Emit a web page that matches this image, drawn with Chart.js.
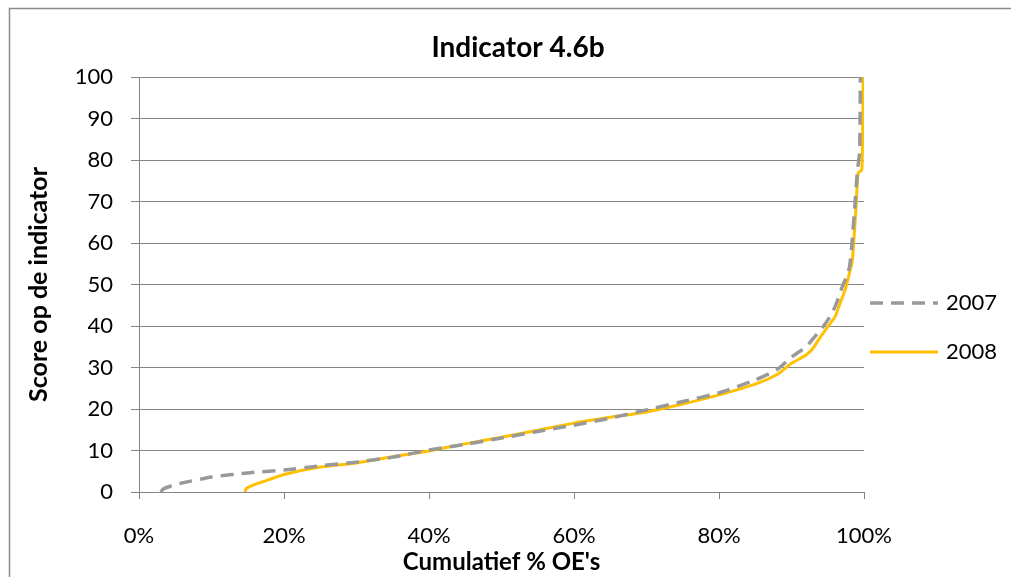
<!DOCTYPE html>
<html>
<head>
<meta charset="utf-8">
<script src="https://cdn.jsdelivr.net/npm/chart.js@4/dist/chart.umd.min.js"></script>
<style>
  html, body { margin: 0; padding: 0; background: #fff; }
  #wrap { width: 1011px; height: 577px; position: relative; }
</style>
</head>
<body>
<div id="wrap"><canvas id="curveChart"></canvas></div>
<script>
// cumulative share of OE's (%) against score, per year
var pct2007 = [3.0, 3.4, 4.5, 6, 10, 15, 20, 25, 30, 35, 40, 45, 50, 55, 60, 65, 70, 75, 80, 85, 88, 90, 92, 93, 94, 95, 96, 97, 97.6, 98, 98.3, 98.7, 99.1, 99.4, 99.5];
var score2007 = [0, 0.8, 1.5, 2.2, 3.6, 4.6, 5.3, 6.3, 7.2, 8.4, 10.1, 11.5, 13, 14.6, 16.1, 17.8, 19.8, 21.8, 23.9, 27, 29.5, 32.5, 35, 37, 39, 41.4, 44.6, 49.4, 52, 54.2, 59, 68, 77.6, 82, 100];
var pct2008 = [14.6, 14.8, 15.5, 17, 20, 25, 30, 35, 40, 45, 50, 55, 60, 65, 70, 75, 80, 85, 88, 90, 92, 93, 94, 95, 96, 96.7, 97.4, 98, 98.4, 98.9, 99.2, 99.7, 99.9];
var score2008 = [0, 0.8, 1.5, 2.4, 4.2, 6.0, 7.0, 8.5, 9.9, 11.6, 13.2, 14.9, 16.6, 18, 19.3, 21.2, 23.4, 26, 28.3, 31, 33, 34.7, 37.4, 39.8, 42.2, 45.5, 48.7, 52.8, 55.9, 68.7, 76.9, 77.6, 100];
var seriesNames = ["2007", "2008"];
var xTicks = [0, 20, 40, 60, 80, 100];
var chartTitle = "Indicator 4.6b";

var FONT = "Lato, 'Open Sans', sans-serif";
var GRID = "#868686";

function toPoints(xs, ys) {
    return xs.map(function (x, i) { return { x: x, y: ys[i] }; });
}

/* ==============================
   FRAME, TITLE, LEGEND
============================== */
var framePlugin = {
    id: "frame",
    afterDraw: function (chart) {
        var ctx = chart.ctx;
        ctx.save();
        ctx.strokeStyle = "#8c8c8c";
        ctx.lineWidth = 1.5;
        ctx.beginPath();
        ctx.moveTo(9.5, 577);
        ctx.lineTo(9.5, 8.5);
        ctx.lineTo(1011, 8.5);
        ctx.stroke();
        // title is centred on the whole frame, not on the plot
        ctx.fillStyle = "#000";
        ctx.font = "bold 28px " + FONT;
        ctx.textAlign = "center";
        ctx.textBaseline = "middle";
        ctx.fillText(chartTitle, 518, 48);
        ctx.restore();
    }
};

var legendPlugin = {
    id: "sideLegend",
    afterDraw: function (chart) {
        var ctx = chart.ctx;
        var rows = [303, 352];
        ctx.save();
        chart.data.datasets.forEach(function (ds, i) {
            ctx.strokeStyle = ds.borderColor;
            ctx.lineWidth = ds.borderWidth;
            ctx.setLineDash(ds.borderDash || []);
            ctx.beginPath();
            ctx.moveTo(870, rows[i]);
            ctx.lineTo(938, rows[i]);
            ctx.stroke();
            ctx.setLineDash([]);
            ctx.fillStyle = "#000";
            ctx.font = "22px " + FONT;
            ctx.textBaseline = "middle";
            ctx.textAlign = "left";
            ctx.fillText(ds.label, 946, rows[i]);
        });
        ctx.restore();
    }
};

/* ==============================
   CHART
============================== */
new Chart(document.getElementById("curveChart"), {
    type: "scatter",
    data: {
        datasets: [{
                label: seriesNames[0],
                data: toPoints(pct2007, score2007),
                showLine: true,
                borderColor: "#999999",
                borderWidth: 3.5,
                borderDash: [13, 8],
                pointRadius: 0,
                tension: 0.2
            }, {
                label: seriesNames[1],
                data: toPoints(pct2008, score2008),
                showLine: true,
                borderColor: "#FFC000",
                borderWidth: 3,
                pointRadius: 0,
                tension: 0.2
            }]
    },
    options: {
        responsive: true,
        maintainAspectRatio: false,
        animation: false,
        layout: { padding: { left: 20, right: 147, top: 77, bottom: 0 } },
        plugins: {
            legend: { display: false },
            tooltip: { enabled: false },
            title: { display: false }
        },
        scales: {
            x: {
                type: "linear",
                min: 0,
                max: 100,
                afterBuildTicks: function (axis) {
                    axis.ticks = xTicks.map(function (v) { return { value: v }; });
                },
                afterFit: function (axis) { axis.height = 85; },
                ticks: {
                    color: "#000",
                    font: { family: FONT, size: 22 },
                    padding: 24,
                    maxRotation: 0,
                    callback: function (v) { return v + "%"; }
                },
                grid: { drawOnChartArea: false, drawTicks: true, tickLength: 7, color: GRID },
                border: { color: GRID },
                title: {
                    display: true,
                    text: "Cumulatief % OE's",
                    color: "#000",
                    font: { family: FONT, size: 24, weight: "bold" },
                    padding: { top: 0, bottom: 0 }
                }
            },
            y: {
                min: 0,
                max: 100,
                afterFit: function (axis) { axis.width = 119; },
                ticks: {
                    stepSize: 10,
                    color: "#000",
                    font: { family: FONT, size: 22 },
                    padding: 18
                },
                grid: { color: GRID, tickLength: 8 },
                border: { color: GRID },
                title: {
                    display: true,
                    text: "Score op de indicator",
                    color: "#000",
                    font: { family: FONT, size: 25, weight: "bold" },
                    padding: { top: 4, bottom: 0 }
                }
            }
        }
    },
    plugins: [framePlugin, legendPlugin]
});
</script>
</body>
</html>
